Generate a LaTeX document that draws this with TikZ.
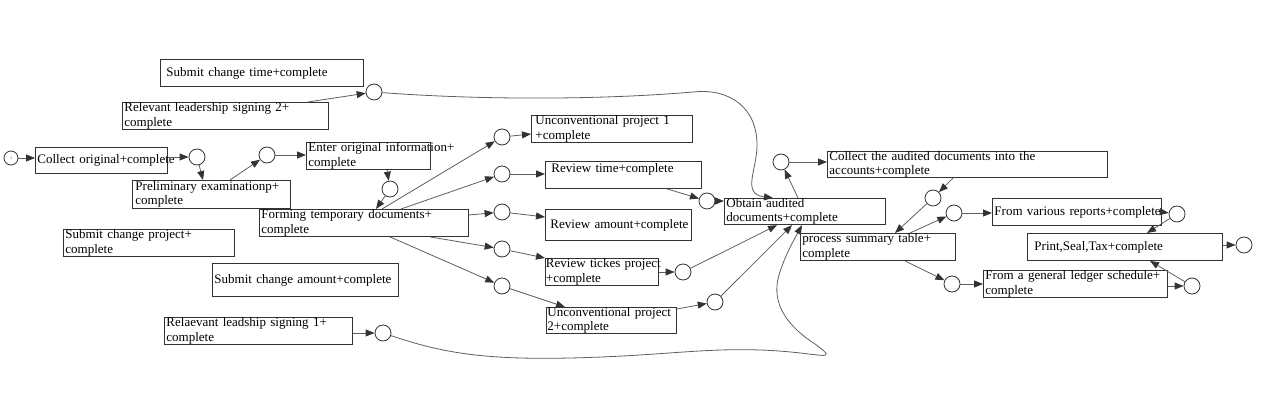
\documentclass[tikz,border=0pt]{standalone}
\usepackage{fontspec}
\setmainfont{Liberation Serif}
\usetikzlibrary{arrows.meta}
\definecolor{boxc}{HTML}{333333}
\definecolor{linec}{HTML}{5E5E5E}
\definecolor{tipc}{HTML}{333333}
\begin{document}
\begin{tikzpicture}[x=1pt,y=-1pt,
  boxs/.style={draw=boxc, line width=0.9pt, rectangle, anchor=north west, inner xsep=2pt, inner ysep=0pt,
    align=left, font=\fontsize{13}{14.5}\selectfont},
  circ/.style={circle, draw=boxc, line width=0.8pt, minimum size=16pt, inner sep=0pt},
  conn/.style={draw=linec, line width=0.8pt, -{Triangle[length=9pt,width=7pt,fill=tipc,color=tipc]}}]
\useasboundingbox (0,0) rectangle (1264,406);

% boxes
\node[boxs, text width=128pt, minimum height=26pt] (Collect) at (35,147) {\mbox{Collect original+complete}};
\node[boxs, text width=154pt, minimum height=28pt] (Prelim) at (132,180) {\mbox{\hspace{1pt}Preliminary examinationp+}\\\mbox{\hspace{1pt}complete}};
\node[boxs, text width=120pt, minimum height=27pt] (Enter) at (306,142) {\mbox{Enter original information+}\\\mbox{complete}};
\node[boxs, text width=205pt, minimum height=27pt] (Forming) at (259,209) {\mbox{Forming temporary documents+}\\\mbox{complete}};
\node[boxs, text width=199pt, minimum height=27pt] (SubTime) at (160,59) {\mbox{\hspace{4pt}Submit change time+complete}};
\node[boxs, text width=202pt, minimum height=27pt] (Rel2) at (122,102) {\mbox{Relevant leadership signing 2+}\\\mbox{complete}};
\node[boxs, text width=167pt, minimum height=27pt] (SubProj) at (63,229) {\mbox{Submit change project+}\\\mbox{complete}};
\node[boxs, text width=182pt, minimum height=33pt] (SubAmt) at (212,263) {\mbox{Submit change amount+complete}};
\node[boxs, text width=184pt, minimum height=27pt] (Rel1) at (164,317) {\mbox{Relaevant leadship signing 1+}\\\mbox{complete}};
\node[boxs, text width=157pt, minimum height=27pt] (Unc1) at (531,115) {\mbox{\hspace{2pt}Unconventional project 1}\\\mbox{\hspace{2pt}+complete}};
\node[boxs, text width=152pt, minimum height=27pt] (RevTime) at (545,161) {\mbox{\hspace{4pt}Review time+complete}\\\mbox{}};
\node[boxs, text width=142pt, minimum height=31pt] (RevAmt) at (545,209) {\mbox{\hspace{3pt}Review amount+complete}};
\node[boxs, text width=109pt, minimum height=27pt] (RevTick) at (545,258) {\mbox{\hspace{-1.5pt}Review tickes project}\\\mbox{\hspace{-1.5pt}+complete}};
\node[boxs, text width=126pt, minimum height=26pt] (Unc2) at (546,307) {\mbox{\hspace{-1pt}Unconventional project}\\\mbox{\hspace{-1pt}2+complete}};
\node[boxs, text width=157pt, minimum height=26pt] (Obtain) at (724,198) {\mbox{Obtain audited}\\\mbox{documents+complete}};
\node[boxs, text width=276pt, minimum height=26pt] (CollAud) at (827,151) {\mbox{Collect the audited documents into the}\\\mbox{accounts+complete}};
\node[boxs, text width=151pt, minimum height=27pt] (Proc) at (800,233) {\mbox{process summary table+}\\\mbox{complete}};
\node[boxs, text width=165pt, minimum height=27pt] (Various) at (992,198) {\mbox{From various reports+complete}};
\node[boxs, text width=191pt, minimum height=27pt] (Print) at (1027,233) {\mbox{\hspace{5pt}Print,Seal,Tax+complete}};
\node[boxs, text width=180pt, minimum height=27pt] (Ledger) at (983,270) {\mbox{From a general ledger schedule+}\\\mbox{complete}};

% circles
\node[circ, minimum size=14pt, font=\fontsize{4}{4}\selectfont, text=red!70!black] (s0) at (11,158) {1};
\node[circ] (c1) at (197,157) {};
\node[circ] (c2) at (267,155) {};
\node[circ] (c3) at (390,189) {};
\node[circ] (c4) at (374,92) {};
\node[circ] (c5) at (383,333) {};
\node[circ] (u1) at (502,137) {};
\node[circ] (u2) at (502,174) {};
\node[circ] (u3) at (502,212) {};
\node[circ] (u4) at (502,249) {};
\node[circ] (u5) at (502,286) {};
\node[circ] (r1) at (707,201) {};
\node[circ] (r2) at (683,272) {};
\node[circ] (r3) at (715,302) {};
\node[circ] (o1) at (781,162) {};
\node[circ] (o2) at (933,198) {};
\node[circ] (o3) at (954,213) {};
\node[circ] (o4) at (952,284) {};
\node[circ] (o5) at (1177,214) {};
\node[circ] (o6) at (1244,245) {};
\node[circ] (o7) at (1192,286) {};

% connectors
\draw[conn] (s0) -- (s0 -| Collect.west);
\draw[conn] (c1 -| Collect.east) -- (c1);
\draw[conn] (c1) -- ([xshift=71pt]Prelim.north west);
\draw[conn] ([xshift=98pt]Prelim.north west) -- (c2);
\draw[conn] (c2) -- (c2 -| Enter.west);
\draw[conn] ([xshift=81pt]Enter.south west) -- (c3);
\draw[conn] (c3) -- ([xshift=117pt]Forming.north west);
\draw[conn] ([xshift=186pt]Rel2.north west) -- (c4);
\draw[conn] (c5 -| Rel1.east) -- (c5);

\draw[conn] ([xshift=123pt]Forming.north west) -- (u1);
\draw[conn] ([xshift=142pt]Forming.north west) -- (u2);
\draw[conn] ([yshift=-6pt]Forming.north east) -- (u3);
\draw[conn] ([xshift=171pt]Forming.south west) -- (u4);
\draw[conn] ([xshift=131pt]Forming.south west) -- (u5);

\draw[conn] (u1) -- ([yshift=-19pt]Unc1.north west);
\draw[conn] (u2) -- (u2 -| RevTime.west);
\draw[conn] (u3) -- ([yshift=-8pt]RevAmt.north west);
\draw[conn] (u4) -- (RevTick.north west);
\draw[conn] (u5) -- ([xshift=19pt]Unc2.north west);

\draw[conn] ([xshift=122pt]RevTime.south west) -- (r1);
\draw[conn] (r1) -- (r1 -| Obtain.west);
\draw[conn] (r2 -| RevTick.east) -- (r2);
\draw[conn] (r2) -- ([xshift=53pt]Obtain.south west);
\draw[conn] ([yshift=-2pt]Unc2.north east) -- (r3);
\draw[conn] (r3) -- ([xshift=68pt]Obtain.south west);

\draw[conn] (c4) .. controls (480,100) and (600,100) .. (693,92)
  .. controls (730,88) and (758,108) .. (757,147)
  .. controls (756,172) and (742,194) .. ([xshift=49pt]Obtain.north west);
\draw[conn] (c5) .. controls (440,352) and (480,360) .. (570,358)
  .. controls (660,356) and (700,348) .. (760,350)
  .. controls (820,352) and (842,364) .. (815,344)
  .. controls (790,328) and (770,305) .. (779,275)
  .. controls (785,255) and (795,238) .. ([xshift=78pt]Obtain.south west);

\draw[conn] ([xshift=74pt]Obtain.north west) -- (o1);
\draw[conn] (o1) -- (o1 -| CollAud.west);
\draw[conn] ([xshift=126pt]CollAud.south west) -- (o2);
\draw[conn] (o2) -- ([xshift=95pt]Proc.north west);
\draw[conn] ([xshift=110pt]Proc.north west) -- (o3);
\draw[conn] (o3) -- (o3 -| Various.west);
\draw[conn] ([xshift=105pt]Proc.south west) -- (o4);
\draw[conn] (o4) -- (o4 -| Ledger.west);
\draw[conn] ([yshift=-14pt]Various.north east) -- (o5);
\draw[conn] (o5) -- ([xshift=120pt]Print.north west);
\draw[conn] (o7 -| Ledger.east) -- (o7);
\draw[conn] (o7) -- ([xshift=123pt]Print.south west);
\draw[conn] (o6 -| Print.east) -- (o6);
\end{tikzpicture}
\end{document}
